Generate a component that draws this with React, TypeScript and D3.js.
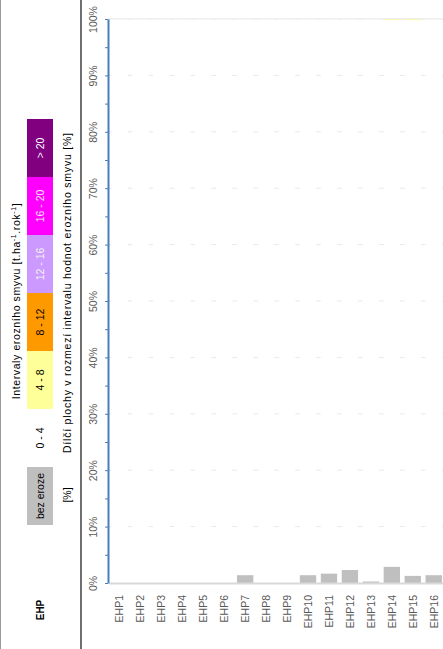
import { useEffect, useRef } from "react";
import * as d3 from "d3";

const W = 443, H = 649;
const FONT = "'Liberation Sans', Arial, sans-serif";

const categories = ["EHP1", "EHP2", "EHP3", "EHP4", "EHP5", "EHP6", "EHP7", "EHP8",
  "EHP9", "EHP10", "EHP11", "EHP12", "EHP13", "EHP14", "EHP15", "EHP16"];

// podíl plochy [%] v jednotlivých intervalech
const bezEroze = [0, 0, 0, 0, 0, 0, 1.4, 0, 0, 1.4, 1.7, 2.3, 0.3, 2.9, 1.3, 1.4];
const int0_4   = [100, 100, 100, 100, 100, 100, 98.6, 100, 100, 98.6, 98.3, 97.7, 99.7, 96.9, 98.5, 98.6];
const int4_8   = [0, 0, 0, 0, 0, 0, 0, 0, 0, 0, 0, 0, 0, 0.2, 0.2, 0];
const int8_12  = [0, 0, 0, 0, 0, 0, 0, 0, 0, 0, 0, 0, 0, 0, 0, 0];
const int12_16 = [0, 0, 0, 0, 0, 0, 0, 0, 0, 0, 0, 0, 0, 0, 0, 0];
const int16_20 = [0, 0, 0, 0, 0, 0, 0, 0, 0, 0, 0, 0, 0, 0, 0, 0];
const int20    = [0, 0, 0, 0, 0, 0, 0, 0, 0, 0, 0, 0, 0, 0, 0, 0];

const seriesNames  = ["bez eroze", "0 - 4", "4 - 8", "8 - 12", "12 - 16", "16 - 20", "> 20"];
const seriesColors = ["#bfbfbf", "#ffffff", "#ffff99", "#ff9900", "#cc99ff", "#ff00ff", "#800080"];
const labelColors  = ["#000000", "#000000", "#000000", "#000000", "#f2f2f2", "#fde0fd", "#ffffff"];
const seriesValues = [bezEroze, int0_4, int4_8, int8_12, int12_16, int16_20, int20];

const majorTicks = [0, 10, 20, 30, 40, 50, 60, 70, 80, 90, 100];
const minorTicks = [5, 15, 25, 35, 45, 55, 65, 75, 85, 95];

export default function App() {
  const ref = useRef<SVGSVGElement>(null);

  useEffect(() => {
    if (!ref.current) return;
    const svg = d3.select(ref.current).attr("width", W).attr("height", H);
    svg.selectAll("*").remove();
    svg.append("rect").attr("width", W).attr("height", H).attr("fill", "#fff");

    const AX = 108, Y0 = 583, Y1 = 19;
    const x = d3.scaleBand<string>().domain(categories).range([109, 109 + 16 * 20.95])
      .paddingInner(0.22).paddingOuter(0.11);
    const y = d3.scaleLinear().domain([0, 100]).range([Y0, Y1]);

    const vtext = (px: number, py: number, str: string, anchor = "middle") =>
      svg.append("text")
        .attr("transform", `translate(${px},${py}) rotate(-90)`)
        .attr("text-anchor", anchor)
        .attr("font-family", FONT)
        .text(str);

    // frame of the left column
    svg.append("line").attr("x1", 0.5).attr("x2", 0.5).attr("y1", 0).attr("y2", H)
      .attr("stroke", "#9a9a9a").attr("stroke-width", 1);
    svg.append("line").attr("x1", 81).attr("x2", 81).attr("y1", 0).attr("y2", H)
      .attr("stroke", "#222").attr("stroke-width", 1.3);

    // gridlines (hidden by the white 0-4 segments, only the gaps show)
    svg.append("g").selectAll("line").data(majorTicks.slice(1)).join("line")
      .attr("x1", AX).attr("x2", W).attr("y1", d => y(d)).attr("y2", d => y(d))
      .attr("stroke", "#e8e8e8").attr("stroke-width", 1);

    // stacked bars
    const keys = seriesNames.map((_, i) => `s${i}`);
    const rows = categories.map((c, i) => {
      const r: Record<string, number | string> = { cat: c };
      seriesValues.forEach((v, k) => { r[keys[k]] = v[i]; });
      return r;
    });
    const stacked = d3.stack<Record<string, number | string>>().keys(keys)(rows as any);
    svg.append("g").selectAll("g").data(stacked).join("g")
      .attr("fill", (_, i) => seriesColors[i])
      .selectAll("rect").data(d => d).join("rect")
      .attr("x", d => x(d.data.cat as string)!)
      .attr("width", x.bandwidth())
      .attr("y", d => y(d[1]))
      .attr("height", d => Math.max(0, y(d[0]) - y(d[1])));

    // 100 % line stays visible above the bars
    svg.append("line").attr("x1", AX).attr("x2", W).attr("y1", y(100)).attr("y2", y(100))
      .attr("stroke", "#e8e8e8").attr("stroke-width", 0.8);

    // category axis
    const gx = svg.append("g").attr("transform", `translate(0,${Y0})`)
      .call(d3.axisBottom(x).tickSize(0).tickSizeOuter(0));
    gx.select(".domain").attr("stroke", "#d9d9d9").attr("stroke-width", 2);
    gx.selectAll("text")
      .attr("y", 0).attr("dy", 0)
      .attr("transform", "translate(4,12) rotate(-90)")
      .attr("text-anchor", "end")
      .attr("font-family", FONT).attr("font-size", 10.5).attr("fill", "#595959");

    // value axis
    const gy = svg.append("g").attr("transform", `translate(${AX},0)`)
      .call(d3.axisLeft(y).tickValues(majorTicks).tickSize(3).tickSizeOuter(0)
        .tickFormat(d => `${d}%`));
    gy.select(".domain").attr("stroke", "#4a7ebb").attr("stroke-width", 2);
    gy.selectAll("line").attr("stroke", "#4a7ebb");
    gy.selectAll("text")
      .attr("x", 0).attr("dy", 0)
      .attr("transform", "translate(-11,0) rotate(-90)")
      .attr("text-anchor", "middle")
      .attr("font-family", FONT).attr("font-size", 10.5).attr("fill", "#595959");
    const gm = svg.append("g").attr("transform", `translate(${AX},0)`)
      .call(d3.axisLeft(y).tickValues(minorTicks).tickSize(3).tickFormat(() => ""));
    gm.select(".domain").remove();
    gm.selectAll("line").attr("stroke", "#4a7ebb");

    // legend / header column
    vtext(44, 610, "EHP").attr("font-size", 10).attr("font-weight", 700).attr("fill", "#000");

    const boxTop = 525, boxH = 58;
    seriesNames.forEach((name, i) => {
      const y1 = boxTop - (i + 1) * boxH;
      if (i !== 1) {
        svg.append("rect").attr("x", 27).attr("y", y1).attr("width", 26).attr("height", boxH)
          .attr("fill", seriesColors[i]);
      }
      vtext(44, y1 + boxH / 2, name).attr("font-size", 10.5).attr("fill", labelColors[i]);
    });

    vtext(71, 495, "[%]").attr("font-size", 10.5).attr("fill", "#000");

    const t1 = vtext(20, 301, "").attr("font-size", 10.5).attr("fill", "#000")
      .attr("letter-spacing", 0.6);
    t1.append("tspan").text("Intervaly erozního smyvu [t.ha");
    t1.append("tspan").attr("dy", -4).attr("font-size", 7).text("-1");
    t1.append("tspan").attr("dy", 4).text(".rok");
    t1.append("tspan").attr("dy", -4).attr("font-size", 7).text("-1");
    t1.append("tspan").attr("dy", 4).text("]");

    vtext(71, 293, "Dílčí plochy v rozmezí intervalu hodnot erozního smyvu [%]")
      .attr("font-size", 10.5).attr("fill", "#000")
      .attr("textLength", 320).attr("lengthAdjust", "spacing");
  }, []);

  return (
    <svg ref={ref} width={W} height={H}
      style={{ position: "absolute", left: 0, top: 0, display: "block" }} />
  );
}
